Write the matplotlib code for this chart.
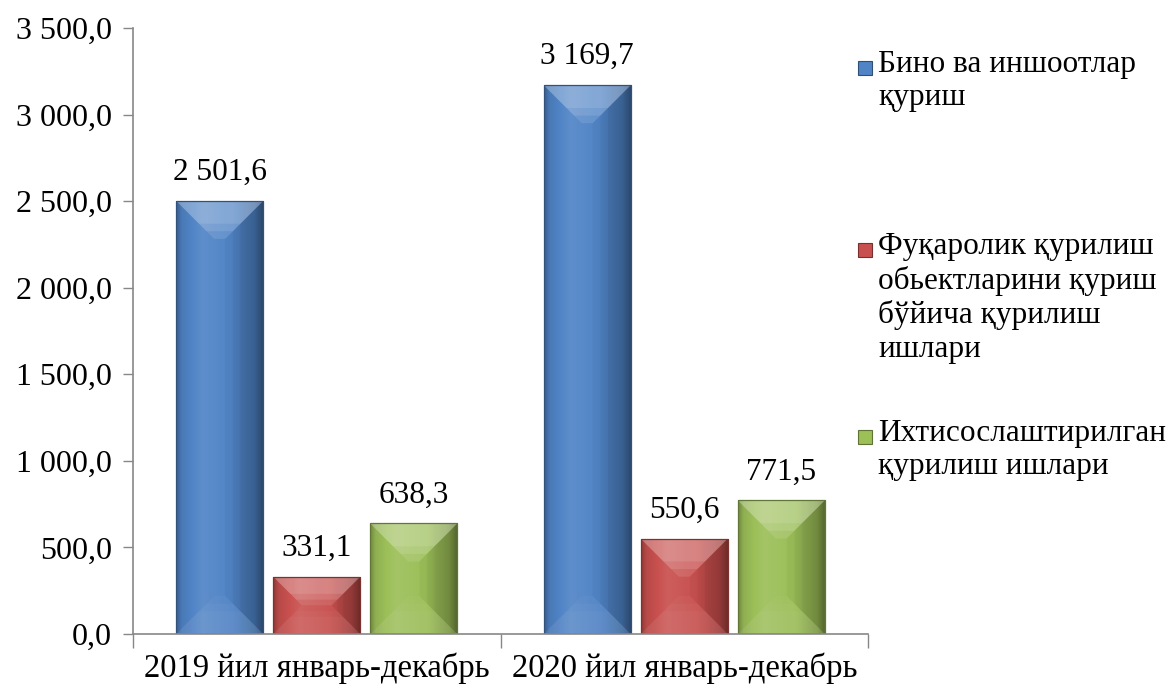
import numpy as np
import matplotlib
matplotlib.use('Agg')
import matplotlib.pyplot as plt
from matplotlib.colors import to_rgb
from matplotlib.patches import Polygon, Rectangle

categories = ['2019 йил январь-декабрь', '2020 йил январь-декабрь']
series_names = ['Бино ва иншоотлар\nқуриш',
                'Фуқаролик қурилиш\nобьектларини қуриш\nбўйича қурилиш\nишлари',
                'Ихтисослаштирилган\nқурилиш ишлари']
buildings = [2501.6, 3169.7]
civil = [331.1, 550.6]
special = [638.3, 771.5]
yticks = [0, 500, 1000, 1500, 2000, 2500, 3000, 3500]

colors = ['#5084C6', '#C8504E', '#9CBF58']
FONT = 'Liberation Serif'
plt.rcParams['font.family'] = [FONT, 'DejaVu Serif']


def fmt(v):
    return f"{v:,.1f}".replace(',', ' ').replace('.', ',')


W, H, DPI = 1173, 689, 100
fig = plt.figure(figsize=(W / DPI, H / DPI), dpi=DPI)
ax = fig.add_axes([133 / W, 1 - 634 / H, (868 - 133) / W, (634 - 28) / H])
ax.set_xlim(-0.5, 1.5)
ax.set_ylim(0, 3500)

x = np.arange(len(categories))
bw = 0.237
step = 0.264
series = [buildings, civil, special]

ax_w_px = (868 - 133)
ax_h_px = (634 - 28)
xpp = 2.0 / ax_w_px
ypp = 3500.0 / ax_h_px


def shade(c, f):
    c = np.array(to_rgb(c))
    if f >= 1:
        return np.clip(c + (1 - c) * (f - 1), 0, 1)
    return c * f


for i, (vals, col) in enumerate(zip(series, colors)):
    bars = ax.bar(x + (i - 1) * step, vals, bw, color=col, zorder=2,
                  edgecolor='none')
    for b, v in zip(bars, vals):
        bx, by, w, h = b.get_x(), b.get_y(), b.get_width(), b.get_height()
        pos = np.linspace(0, 1, 96)
        stops_p = [0, 0.06, 0.3, 0.65, 0.9, 1]
        stops_f = [0.72, 0.92, 1.08, 1.0, 0.82, 0.6]
        fac = np.interp(pos, stops_p, stops_f)
        grad = np.array([shade(col, f) for f in fac])
        im = ax.imshow(grad[np.newaxis, :, :], extent=[bx, bx + w, by, by + h],
                       aspect='auto', zorder=2.1, interpolation='bilinear')
        im.set_clip_path(b)
        w_px = w / xpp
        h_px = h / ypp
        d = min(38, w_px / 2, h_px / 2)
        # soft bevels drawn as a few nested layers
        for k, frac in enumerate([1.0, 0.8, 0.6]):
            dd = d * frac
            dx, dy = dd * xpp, dd * ypp
            a = 0.11
            top = Polygon([[bx, by + h], [bx + w, by + h],
                           [bx + w - dx, by + h - dy], [bx + dx, by + h - dy]],
                          closed=True, facecolor='white', alpha=a,
                          edgecolor='none', zorder=2.2)
            bot = Polygon([[bx, by], [bx + w, by], [bx + w - dx, by + dy],
                           [bx + dx, by + dy]], closed=True,
                          facecolor='white', alpha=0.03, edgecolor='none',
                          zorder=2.2)
            right = Polygon([[bx + w, by], [bx + w, by + h],
                             [bx + w - dx, by + h - dy], [bx + w - dx, by + dy]],
                            closed=True, facecolor='black', alpha=0.035,
                            edgecolor='none', zorder=2.2)
            for p in (top, bot, right):
                ax.add_patch(p)
        ax.add_patch(Rectangle((bx, by), w, h, facecolor='none',
                               edgecolor=shade(col, 0.62), lw=0.9, zorder=2.3))
        ax.text(bx + w / 2, by + h + 14 * ypp, fmt(v), ha='center', va='bottom',
                fontsize=22.5, family=FONT, zorder=3)

ax.set_xlim(-0.5, 1.5)
ax.set_ylim(0, 3500)

ax.set_yticks(yticks)
ax.set_yticklabels([fmt(t) for t in yticks], fontsize=23, family=FONT)
ax.set_xticks([-0.5, 0.5, 1.5])
ax.set_xticklabels([])
ax.set_xticks(x, minor=True)
ax.set_xticklabels(categories, minor=True, fontsize=23.5, family=FONT)
ax.tick_params(axis='x', which='minor', length=0, pad=13)
ax.tick_params(axis='x', which='major', length=10, color='#878787', width=1)
ax.tick_params(axis='y', length=7, color='#878787', width=1, pad=8)
for s in ['top', 'right']:
    ax.spines[s].set_visible(False)
for s in ['left', 'bottom']:
    ax.spines[s].set_color('#878787')
    ax.spines[s].set_linewidth(1.2)

# legend
leg_tops = [50, 232, 419]
for name, col, ty in zip(series_names, colors, leg_tops):
    fig.text(878 / W, 1 - ty / H, name, ha='left', va='top', fontsize=22.5,
             family=FONT, linespacing=1.2)
    cy = ty + 18
    sq = Rectangle((858 / W, 1 - (cy + 7) / H), 14 / W, 14 / H,
                   transform=fig.transFigure, facecolor=col,
                   edgecolor=shade(col, 0.6), lw=0.8)
    fig.patches.append(sq)

fig.savefig('out.png', dpi=DPI)
